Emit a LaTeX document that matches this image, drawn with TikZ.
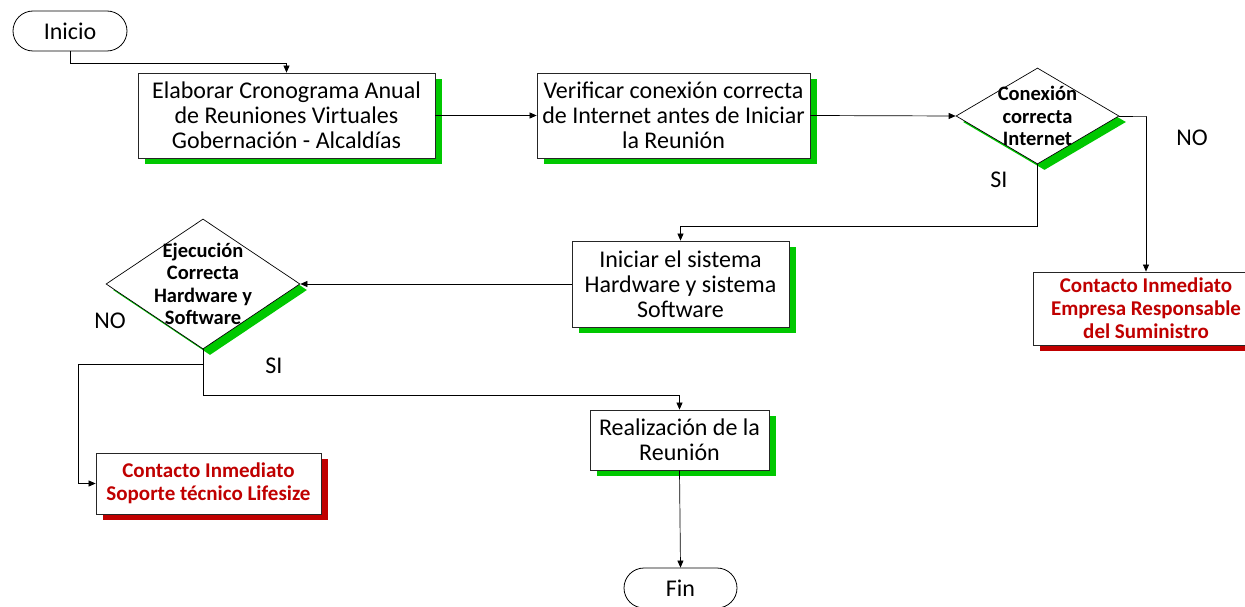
\documentclass[tikz,border=0pt]{standalone}
\usepackage{fontspec}
\setmainfont{Carlito}
\usetikzlibrary{shapes.geometric,shadows,arrows.meta}
\definecolor{shgreen}{RGB}{0,200,0}
\definecolor{shred}{RGB}{192,0,0}

\tikzset{
  edgeline/.style={draw=black, line width=0.7pt},
  arr/.style={edgeline, -{Triangle[length=7pt,width=6pt]}},
  terminal/.style={draw=black, line width=0.8pt, fill=white, rounded corners=20pt,
    minimum height=40pt, inner sep=0pt, font=\fontsize{24}{25}\selectfont},
  boxbase/.style={draw=black!85, line width=0.8pt, fill=white, inner sep=0pt, align=center},
  proc/.style={boxbase, font=\fontsize{24}{25}\selectfont,
    general shadow={fill=shgreen, shadow xshift=7pt, shadow yshift=-6pt}},
  alertbox/.style={boxbase, text=shred, font=\bfseries\fontsize{21}{23}\selectfont,
    general shadow={fill=shred, shadow xshift=7pt, shadow yshift=-6pt}},
  decision/.style={diamond, draw=black, line width=0.7pt, fill=white, inner sep=0pt,
    general shadow={fill=shgreen, shadow xshift=7pt, shadow yshift=-6pt}},
  dectext/.style={align=center, font=\bfseries\fontsize{20.5}{22.5}\selectfont},
  branch/.style={font=\fontsize{24}{25}\selectfont},
}

\begin{document}
\begin{tikzpicture}[x=1pt, y=1pt]
  \clip (0,0) rectangle (1245,-607);
  \useasboundingbox (0,0) rectangle (1245,-607);

  % terminals
  \node[terminal, minimum width=114pt] (ini) at (70,-31) {Inicio};
  \node[terminal, minimum width=113pt] (fin) at (680.5,-588) {Fin};

  % process steps
  \node[proc, minimum width=297pt, minimum height=85pt] (b1) at (286.5,-115.5)
    {Elaborar Cronograma Anual\\de Reuniones Virtuales\\Gobernación - Alcaldías};
  \node[proc, minimum width=273pt, minimum height=85pt] (b2) at (673.5,-115.5)
    {Verificar conexión correcta\\de Internet antes de Iniciar\\la Reunión};
  \node[proc, minimum width=217pt, minimum height=86pt] (b3) at (680.5,-284)
    {Iniciar el sistema\\Hardware y sistema\\Software};
  \node[proc, minimum width=179pt, minimum height=60pt] (b4) at (679.5,-440)
    {Realización de la\\Reunión};

  % contact boxes
  \node[alertbox, minimum width=226pt, minimum height=73pt] (r1) at (1146,-308.5)
    {Contacto Inmediato\\Empresa Responsable\\del Suministro};
  \node[alertbox, minimum width=225pt, minimum height=61pt] (r2) at (208.5,-483.5)
    {Contacto Inmediato\\Soporte técnico Lifesize};

  % decisions
  \node[decision, minimum width=163pt, minimum height=96pt,
        label={[dectext]center:Conexión\\correcta\\Internet}] (d1) at (1037.5,-116) {};
  \node[decision, minimum width=194pt, minimum height=130pt,
        label={[dectext]center:Ejecución\\Correcta\\Hardware y\\Software}] (d2) at (203,-284) {};

  % branch labels
  \node[branch] (no1) at (1192,-138) {NO};
  \node[branch] (si1) at (999,-180) {SI};
  \node[branch] (no2) at (110,-321) {NO};
  \node[branch] (si2) at (274,-366) {SI};

  % connectors
  \draw[arr] (ini.south) -- ++(0,-12) -| (b1.north);
  \draw[arr] (b1.east) -- (b2.west);
  \draw[arr] (b2.east) -- (d1.west);
  \draw[arr] (d1.east) -- ++(27,0) -| (r1.north);
  \draw[arr] (d1.south) -- ++(0,-62) -| (b3.north);
  \draw[arr] (b3.west) -- (d2.east);
  \draw[arr] (d2.south) -- ++(0,-46) -| (b4.north);
  \coordinate (split) at ([yshift=-15pt]d2.south);
  \draw[arr] (split) -- ++(-125,0) |- (r2.west);
  \draw[arr] (b4.south) -- (fin.north);
\end{tikzpicture}
\end{document}
